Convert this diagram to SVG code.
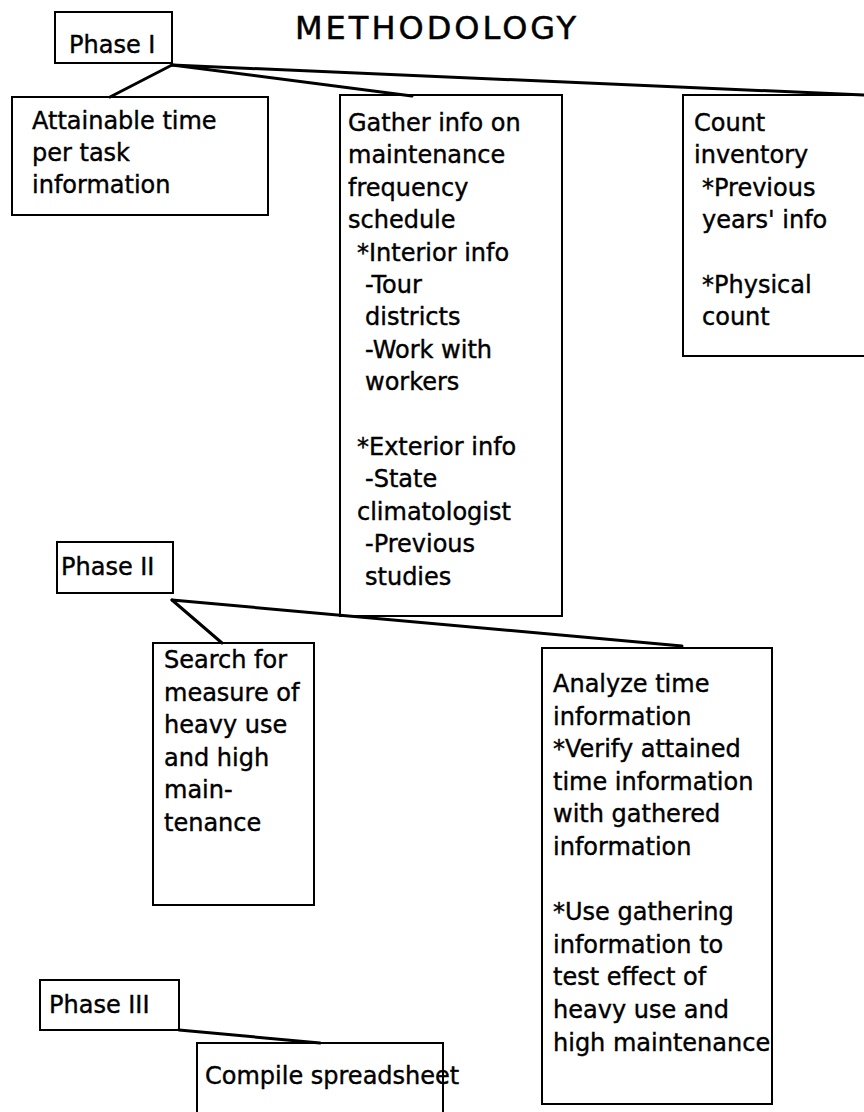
<svg xmlns="http://www.w3.org/2000/svg" width="864" height="1112" viewBox="0 0 864 1112">
<style>
  .box { fill: #fff; stroke: #000; stroke-width: 2; }
  .t { font-family: "DejaVu Sans", "Liberation Sans", sans-serif; font-size: 24px; fill: #000; stroke: #000; stroke-width: 0.4; }
  .title { font-family: "DejaVu Sans", "Liberation Sans", sans-serif; font-size: 32px; letter-spacing: 3px; fill: #000; stroke: #000; stroke-width: 0.5; }
  .conn line { stroke: #000; stroke-width: 3; stroke-linecap: round; }
</style>
<rect width="864" height="1112" fill="#fff"/>
<text class="title" x="295" y="39">METHODOLOGY</text>

<g id="phase1">
  <rect class="box" x="55" y="12" width="117" height="51"/>
  <text class="t" x="69" y="53">Phase I</text>
</g>
<g id="attainable">
  <rect class="box" x="12" y="97" width="256" height="118"/>
  <text class="t"><tspan x="32" y="129">Attainable time</tspan><tspan x="32" y="161">per task</tspan><tspan x="32" y="193">information</tspan></text>
</g>
<g id="gather">
  <rect class="box" x="340" y="95" width="222" height="521"/>
  <text class="t">
    <tspan x="348" y="131">Gather info on</tspan>
    <tspan x="348" y="163.4">maintenance</tspan>
    <tspan x="348" y="195.8">frequency</tspan>
    <tspan x="348" y="228.2">schedule</tspan>
    <tspan x="357" y="260.6">*Interior info</tspan>
    <tspan x="365" y="293">-Tour</tspan>
    <tspan x="365" y="325.4">districts</tspan>
    <tspan x="365" y="357.8">-Work with</tspan>
    <tspan x="365" y="390.2">workers</tspan>
    <tspan x="357" y="455">*Exterior info</tspan>
    <tspan x="365" y="487.4">-State</tspan>
    <tspan x="357" y="519.8">climatologist</tspan>
    <tspan x="365" y="552.2">-Previous</tspan>
    <tspan x="365" y="584.6">studies</tspan>
  </text>
</g>
<g id="count">
  <rect class="box" x="683" y="95" width="200" height="261"/>
  <text class="t">
    <tspan x="694" y="131">Count</tspan>
    <tspan x="694" y="163.4">inventory</tspan>
    <tspan x="702" y="195.8">*Previous</tspan>
    <tspan x="702" y="228.2">years' info</tspan>
    <tspan x="702" y="293">*Physical</tspan>
    <tspan x="702" y="325.4">count</tspan>
  </text>
</g>

<g id="phase2">
  <rect class="box" x="57" y="542" width="116" height="51"/>
  <text class="t" x="61" y="575">Phase II</text>
</g>
<g id="search">
  <rect class="box" x="153" y="643" width="161" height="262"/>
  <text class="t">
    <tspan x="164" y="668">Search for</tspan>
    <tspan x="164" y="700.6">measure of</tspan>
    <tspan x="164" y="733.2">heavy use</tspan>
    <tspan x="164" y="765.8">and high</tspan>
    <tspan x="164" y="798.4">main-</tspan>
    <tspan x="164" y="831">tenance</tspan>
  </text>
</g>
<g id="analyze">
  <rect class="box" x="542" y="648" width="230" height="456"/>
  <text class="t">
    <tspan x="553" y="692">Analyze time</tspan>
    <tspan x="553" y="724.6">information</tspan>
    <tspan x="553" y="757.2">*Verify attained</tspan>
    <tspan x="553" y="789.8">time information</tspan>
    <tspan x="553" y="822.4">with gathered</tspan>
    <tspan x="553" y="855">information</tspan>
    <tspan x="553" y="920.2">*Use gathering</tspan>
    <tspan x="553" y="952.8">information to</tspan>
    <tspan x="553" y="985.4">test effect of</tspan>
    <tspan x="553" y="1018">heavy use and</tspan>
    <tspan x="553" y="1050.6">high maintenance</tspan>
  </text>
</g>

<g id="phase3">
  <rect class="box" x="40" y="980" width="139" height="50"/>
  <text class="t" x="49" y="1013">Phase III</text>
</g>
<g id="compile">
  <rect class="box" x="197" y="1043" width="246" height="100"/>
  <text class="t" x="205" y="1084">Compile spreadsheet</text>
</g>

<g id="connectors" class="conn">
  <line x1="172" y1="65" x2="110" y2="97"/>
  <line x1="172" y1="65" x2="412" y2="96"/>
  <line x1="172" y1="65" x2="864" y2="95"/>
  <line x1="172" y1="600" x2="222" y2="643"/>
  <line x1="172" y1="600" x2="682" y2="646"/>
  <line x1="179" y1="1030" x2="320" y2="1043"/>
</g>
</svg>
